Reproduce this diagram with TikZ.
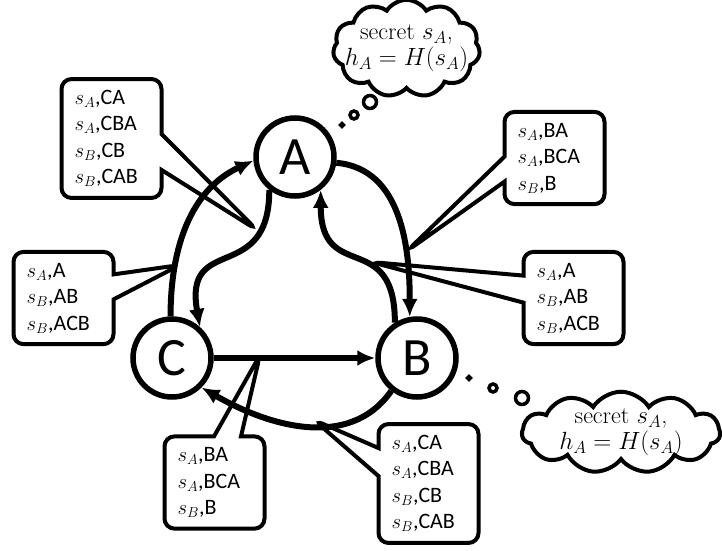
\documentclass[tikz,border=0pt]{standalone}
\usepackage{fontspec}
\usepackage{tikz}
\usetikzlibrary{shapes,shapes.callouts,shapes.symbols,arrows.meta}
\newfontfamily\calib{Carlito}
\tikzstyle{party} = [circle, draw=black, line width=5.5pt, fill=white, text=black, inner sep=0pt, minimum size=78pt, font=\calib\fontsize{54}{54}\selectfont]
\tikzstyle{note} = [rectangle callout, draw=black, line width=4pt, fill=white, rounded corners=10pt, text width=74pt, inner xsep=13pt, inner ysep=11pt, align=left, font=\calib\fontsize{22}{26.5}\selectfont]
\tikzstyle{thought} = [cloud, cloud puffs=11, cloud puff arc=115, draw=black, line width=4pt, fill=white, inner sep=0pt, align=center, font=\fontsize{24}{26}\selectfont]
\tikzstyle{bubble} = [circle, draw=black, line width=3.5pt, fill=white, inner sep=0pt]
\tikzstyle{tedge}  = [draw, line width=6pt, >={Latex[length=18pt,width=16pt]}, ->]

\begin{document}
\begin{tikzpicture}[x=1pt, y=1pt]
\useasboundingbox (0,0) rectangle (722,550);

% thoughts ===============================

\node[thought, aspect=1.69, inner xsep=-14pt, inner ysep=-9pt, minimum width=147pt, minimum height=87pt] (thinkA) at (406.5,501.5) {secret $s_A$,\\ $h_A=H(s_A)$};
\node[bubble, minimum size=3pt] (dotA1) at (342,425) {};
\node[bubble, minimum size=8pt] (dotA2) at (354,435) {};
\node[bubble, minimum size=13pt] (dotA3) at (370,448) {};

\node[thought, aspect=2.64, inner xsep=-6pt, inner ysep=-6pt, minimum width=198pt, minimum height=75pt] (thinkB) at (621,117.5) {secret $s_A$,\\ $h_A=H(s_A)$};
\node[bubble, minimum size=3pt] (dotB1) at (469,172) {};
\node[bubble, minimum size=8pt] (dotB2) at (493,162) {};
\node[bubble, minimum size=13pt] (dotB3) at (522,152) {};

% message lists ==========================

\coordinate (tipAC) at (257,320);
\coordinate (tipAB) at (407,299);
\coordinate (tipCA) at (180,285);
\coordinate (tipBA) at (371,288);
\coordinate (tipCB) at (260,195);
\coordinate (tipBC) at (314,130);

\node[note, callout absolute pointer={(tipAC)}, callout pointer width=36pt] (msgAC) at (111.5,411.5) {$s_A$,CA\\ $s_A$,CBA\\ $s_B$,CB\\ $s_B$,CAB};
\node[note, callout absolute pointer={(tipAB)}, callout pointer width=25pt] (msgAB) at (554.5,392) {$s_A$,BA\\ $s_A$,BCA\\ $s_B$,B};
\node[note, callout absolute pointer={(tipCA)}, callout pointer width=25pt] (msgCA) at (63.5,252) {$s_A$,A\\ $s_B$,AB\\ $s_B$,ACB};
\node[note, callout absolute pointer={(tipBA)}, callout pointer width=27pt] (msgBA) at (573.5,252) {$s_A$,A\\ $s_B$,AB\\ $s_B$,ACB};
\node[note, callout absolute pointer={(tipCB)}, callout pointer width=27pt] (msgCB) at (214.5,67.5) {$s_A$,BA\\ $s_A$,BCA\\ $s_B$,B};
\node[note, callout absolute pointer={(tipBC)}, callout pointer width=28pt] (msgBC) at (428.5,66.5) {$s_A$,CA\\ $s_A$,CBA\\ $s_B$,CB\\ $s_B$,CAB};

% parties ================================

\node[party] (A) at (295,393) {A};
\node[party] (B) at (417,192) {B};
\node[party] (C) at (172,192) {C};

% edges ==================================

\path[tedge] (C) -- (B);
\path[tedge] (A.-8) to[out=-5, in=90] (B.100);
\path[tedge] (B.122) to[out=90, in=-90, looseness=1.6] (A.-52);
\path[tedge] (A.-128) to[out=-90, in=100, looseness=1.6] (C.48);
\path[tedge] (C.92) to[out=90, in=205] (A.185);
\path[tedge] (B.-128) to[out=-125, in=-30] (C.-45);

\end{tikzpicture}
\end{document}
